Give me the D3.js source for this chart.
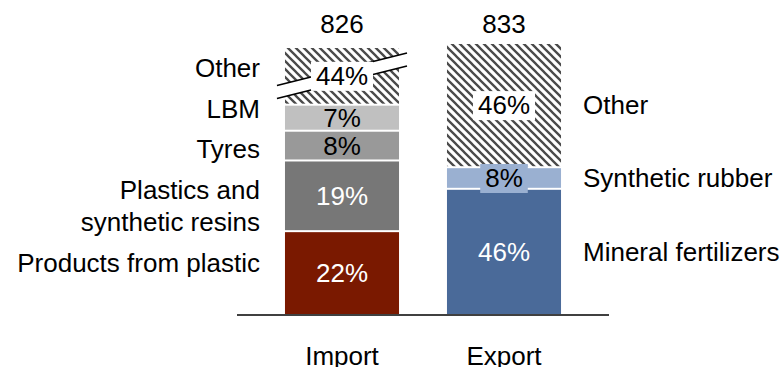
<!DOCTYPE html>
<html>
<head>
<meta charset="utf-8">
<script src="https://cdn.jsdelivr.net/npm/d3@7/dist/d3.min.js"></script>
<style>
  html, body { margin: 0; padding: 0; background: #fff; }
  svg { display: block; }
  text { font-family: "Liberation Sans", Arial, sans-serif; }
</style>
</head>
<body>
<svg id="chart" width="784" height="367"></svg>
<script>
// Trade structure: import vs export, shares of total (totals in the header)
const bars = ["Import", "Export"];
const totals = [826, 833];

const importCategories = ["Products from plastic", "Plastics and synthetic resins", "Tyres", "LBM", "Other"];
const importLabelLines = [["Products from plastic"], ["Plastics and", "synthetic resins"], ["Tyres"], ["LBM"], ["Other"]];
const importShares = [22, 19, 8, 7, 44];

const exportCategories = ["Mineral fertilizers", "Synthetic rubber", "Other"];
const exportShares = [46, 8, 46];

// Styling
const importColors = ["#7a1900", "#777777", "#999999", "#c0c0c0", "url(#hatch)"];
const importTextColors = ["#fff", "#fff", "#000", "#000", "#000"];
const exportColors = ["#4a6a99", "#9ab0d1", "url(#hatch)"];
const exportTextColors = ["#fff", "#000", "#000"];
const exportBoxFill = [null, "#9ab0d1", "#fff"];
const importBoxFill = [null, null, null, null, "#fff"];

const FS = 26;
const svg = d3.select("#chart");

// diagonal hatch for the "Other" groups
const defs = svg.append("defs");
const pat = defs.append("pattern")
  .attr("id", "hatch").attr("patternUnits", "userSpaceOnUse")
  .attr("width", 8).attr("height", 8);
pat.append("rect").attr("width", 8).attr("height", 8).attr("fill", "#fff");
pat.append("path")
  .attr("d", "M-2,-2L10,10M-2,6L2,10M6,-2L10,2")
  .attr("stroke", "#4a4a4a").attr("stroke-width", 2.3);

const baseY = 314;
const x = d3.scaleBand().domain(bars).range([261, 585]).paddingInner(0.296).paddingOuter(0.148);
const yExport = d3.scaleLinear().domain([0, 100]).range([baseY, 44]);
// import bar is drawn at a larger scale and cut off at the top (axis break)
const yImport = d3.scaleLinear().domain([0, 100]).range([baseY, baseY - 372]);
const importCutTop = 48;

function stack(shares) {
  let c = 0;
  return shares.map((v, i) => { const s = c; c += v; return { i, v, start: s, end: c }; });
}

function drawBar(name, shares, yScale, colors, cutTop) {
  const x0 = x(name), w = x.bandwidth();
  const segs = stack(shares).map(d => {
    const yTop = Math.max(yScale(d.end), cutTop);
    const yBot = yScale(d.start);
    return Object.assign(d, { yTop, yBot });
  });
  const g = svg.append("g");
  g.selectAll("rect.seg").data(segs).join("rect")
    .attr("class", "seg")
    .attr("x", x0).attr("width", w)
    .attr("y", d => d.yTop)
    .attr("height", d => d.yBot - d.yTop - (d.i > 0 ? 2 : 0))
    .attr("fill", d => colors[d.i]);
  return { g, segs, x0, w };
}

function drawValueLabels(bar, textColors, boxFills) {
  const { g, segs, x0, w } = bar;
  segs.forEach(d => {
    const cy = (d.yTop + d.yBot - (d.i > 0 ? 2 : 0)) / 2;
    const t = g.append("text")
      .attr("x", x0 + w / 2).attr("y", cy)
      .attr("text-anchor", "middle").attr("dominant-baseline", "central")
      .attr("font-size", FS).attr("fill", textColors[d.i])
      .text(d.v + "%");
    if (boxFills[d.i]) {
      const bb = t.node().getBBox();
      g.insert("rect", () => t.node())
        .attr("x", bb.x - 5).attr("y", cy - 14)
        .attr("width", bb.width + 10).attr("height", 29)
        .attr("fill", boxFills[d.i]);
    }
  });
}

const imp = drawBar("Import", importShares, yImport, importColors, importCutTop);
const exp = drawBar("Export", exportShares, yExport, exportColors, -Infinity);

// break marks across the truncated import "Other" segment
(function () {
  const s = imp.segs[imp.segs.length - 1];
  const cx = imp.x0 + imp.w / 2;
  const cy = (s.yTop + s.yBot - 2) / 2;
  const half = imp.w / 2 + 8, slope = -0.25, gap = 13;
  const pts = [[cx - half, cy - slope * half], [cx + half, cy + slope * half]];
  imp.g.append("polygon")
    .attr("points", [
      [pts[0][0], pts[0][1] - gap / 2], [pts[1][0], pts[1][1] - gap / 2],
      [pts[1][0], pts[1][1] + gap / 2], [pts[0][0], pts[0][1] + gap / 2]
    ].map(p => p.join(",")).join(" "))
    .attr("fill", "#fff");
  [-gap / 2, gap / 2].forEach(off => {
    imp.g.append("line")
      .attr("x1", pts[0][0]).attr("y1", pts[0][1] + off)
      .attr("x2", pts[1][0]).attr("y2", pts[1][1] + off)
      .attr("stroke", "#000").attr("stroke-width", 1.6);
  });
})();

drawValueLabels(imp, importTextColors, importBoxFill);
drawValueLabels(exp, exportTextColors, exportBoxFill);

// totals above bars
svg.selectAll("text.total").data(bars).join("text")
  .attr("class", "total")
  .attr("x", d => x(d) + x.bandwidth() / 2).attr("y", 33)
  .attr("text-anchor", "middle").attr("font-size", FS).attr("fill", "#000")
  .text((d, i) => totals[i]);

// baseline
const r = x.range();
svg.append("line")
  .attr("x1", r[0] - 24).attr("x2", r[1] + 24)
  .attr("y1", baseY + 1).attr("y2", baseY + 1)
  .attr("stroke", "#000").attr("stroke-width", 1.6);

// category axis labels
svg.selectAll("text.cat").data(bars).join("text")
  .attr("class", "cat")
  .attr("x", d => x(d) + x.bandwidth() / 2).attr("y", 365)
  .attr("text-anchor", "middle").attr("font-size", FS).attr("fill", "#000")
  .text(d => d);

// import category names, stacked bottom-up on the left
(function () {
  const rightX = x("Import") - 25;
  const lineH = 31.7, step = 40.8;
  let baseline = baseY - 42.3;
  importLabelLines.forEach((lines) => {
    const t = svg.append("text")
      .attr("text-anchor", "end").attr("font-size", FS).attr("fill", "#000");
    const top = baseline - (lines.length - 1) * lineH;
    lines.forEach((ln, k) => {
      t.append("tspan").attr("x", rightX).attr("y", top + k * lineH).text(ln);
    });
    baseline = top - step;
  });
})();

// export category names on the right, at segment centres
svg.selectAll("text.exp").data(exp.segs).join("text")
  .attr("class", "exp")
  .attr("x", x("Export") + x.bandwidth() + 22)
  .attr("y", d => (d.yTop + d.yBot - (d.i > 0 ? 2 : 0)) / 2)
  .attr("dominant-baseline", "central")
  .attr("font-size", FS).attr("fill", "#000")
  .text(d => exportCategories[d.i]);
</script>
</body>
</html>
